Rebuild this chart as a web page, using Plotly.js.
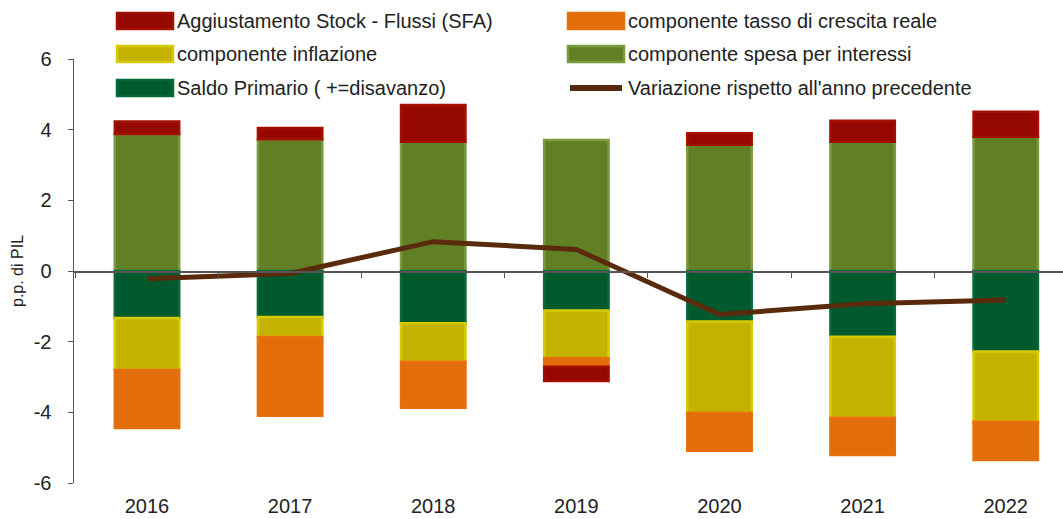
<!DOCTYPE html>
<html>
<head>
<meta charset="utf-8">
<script src="https://cdn.plot.ly/plotly-3.0.1.min.js"></script>
<style>html,body{margin:0;padding:0;background:#fff;}#chart{width:1063px;height:519px;}</style>
</head>
<body>
<div id="chart"></div>
<script>
// ---- data ----
const years = ['2016', '2017', '2018', '2019', '2020', '2021', '2022'];
const sfa = [0.35, 0.32, 1.04, -0.40, 0.33, 0.59, 0.71];
const crescita = [-1.64, -2.23, -1.30, -0.24, -1.08, -1.06, -1.08];
const inflazione = [-1.47, -0.57, -1.09, -1.35, -2.58, -2.29, -1.99];
const interessi = [3.88, 3.73, 3.66, 3.71, 3.57, 3.66, 3.80];
const saldo = [-1.33, -1.30, -1.48, -1.12, -1.43, -1.86, -2.28];
const variazione = [-0.22, -0.07, 0.83, 0.61, -1.23, -0.93, -0.82];
const names = {
  sfa: 'Aggiustamento Stock - Flussi (SFA)',
  crescita: 'componente tasso di crescita reale',
  inflazione: 'componente inflazione',
  interessi: 'componente spesa per interessi',
  saldo: 'Saldo Primario ( +=disavanzo)',
  variazione: "Variazione rispetto all'anno precedente"
};
const yTicks = [-6, -4, -2, 0, 2, 4, 6];

// ---- styles ----
const col = {
  sfa: {fill: '#950800', line: '#A30F00'},
  crescita: {fill: '#E36C0B', line: '#E6700E'},
  inflazione: {fill: '#C4B200', line: '#D8CA00'},
  interessi: {fill: '#617F25', line: '#7A9A3E'},
  saldo: {fill: '#005A2E', line: '#076A3A'},
  variazione: '#5A2A0C'
};
const FONT = '"Liberation Sans", Arial, sans-serif';

function bar(y, key) {
  return {
    type: 'bar', x: years, y: y, name: names[key], showlegend: false,
    width: 0.45, hoverinfo: 'y',
    marker: {color: col[key].fill, line: {color: col[key].line, width: 2.5}}
  };
}
const traces = [
  bar(interessi, 'interessi'),
  bar(saldo, 'saldo'),
  bar(inflazione, 'inflazione'),
  bar(crescita, 'crescita'),
  bar(sfa, 'sfa'),
  {
    type: 'scatter', mode: 'lines', x: years, y: variazione, name: names.variazione,
    xaxis: 'x2', yaxis: 'y', showlegend: false,
    line: {color: col.variazione, width: 5}
  }
];

// pixel -> paper helpers (plot area: x 74..1063, y 59..483)
const L = 74, R = 1063, T = 59, B = 483;
const px = v => (v - L) / (R - L);
const py = v => (B - v) / (B - T);

const legendItems = [
  {key: 'sfa', x: 117, y: 21},
  {key: 'crescita', x: 568, y: 21},
  {key: 'inflazione', x: 117, y: 54},
  {key: 'interessi', x: 568, y: 54},
  {key: 'saldo', x: 117, y: 88},
  {key: 'variazione', x: 568, y: 88, line: true}
];
const shapes = [];
const annotations = [];
legendItems.forEach(it => {
  if (it.line) {
    shapes.push({type: 'line', xref: 'paper', yref: 'paper',
      x0: px(it.x + 2), x1: px(it.x + 54), y0: py(it.y), y1: py(it.y),
      line: {color: col.variazione, width: 6}});
  } else {
    shapes.push({type: 'rect', xref: 'paper', yref: 'paper',
      x0: px(it.x), x1: px(it.x + 56), y0: py(it.y - 8), y1: py(it.y + 8),
      fillcolor: col[it.key].fill, line: {color: col[it.key].line, width: 2.5}});
  }
  annotations.push({xref: 'paper', yref: 'paper', x: px(it.x + 58), y: py(it.y),
    xanchor: 'left', yanchor: 'middle', showarrow: false, text: names[it.key],
    font: {family: FONT, size: 20, color: '#222'}});
});

const layout = {
  width: 1063, height: 519,
  margin: {l: L, r: 0, t: T, b: 519 - B},
  paper_bgcolor: '#fff', plot_bgcolor: '#fff',
  barmode: 'relative', showlegend: false,
  font: {family: FONT, size: 20, color: '#222'},
  xaxis: {
    type: 'category', range: [-0.51, 6.4], showgrid: false, zeroline: false,
    showline: false, ticks: 'outside', ticklen: 5, tickcolor: 'rgba(0,0,0,0)',
    tickfont: {family: FONT, size: 20, color: '#222'}, fixedrange: true
  },
  xaxis2: {
    type: 'category', range: [-0.51, 6.4], overlaying: 'x', anchor: 'free', position: 0.5,
    showgrid: false, zeroline: false, showline: true, linecolor: '#555', linewidth: 1.5,
    ticks: 'outside', tickson: 'boundaries', ticklen: 5, tickcolor: '#555',
    showticklabels: false, fixedrange: true
  },
  yaxis: {
    range: [-6, 6], tickvals: yTicks, ticktext: yTicks.map(String),
    showgrid: false, zeroline: false, showline: true, linecolor: '#555', linewidth: 1.5,
    ticks: 'outside', ticklen: 5, tickcolor: '#555', ticklabelstandoff: 12,
    tickfont: {family: FONT, size: 20, color: '#222'},
    title: {text: 'p.p. di PIL', font: {family: FONT, size: 16, color: '#222'}, standoff: 6},
    fixedrange: true
  },
  shapes: shapes,
  annotations: annotations
};

Plotly.newPlot('chart', traces, layout, {displayModeBar: false, staticPlot: true});
</script>
</body>
</html>
